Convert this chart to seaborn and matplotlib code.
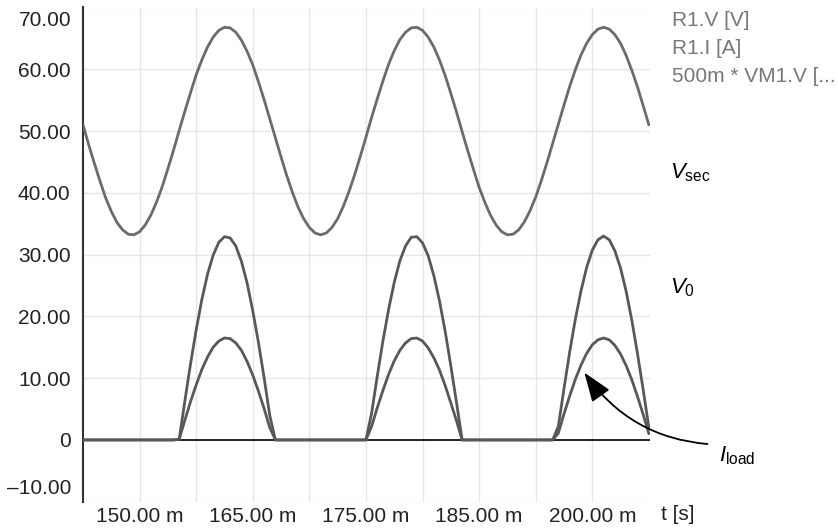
import matplotlib
matplotlib.use("Agg")
import matplotlib.pyplot as plt
import seaborn as sns
import pandas as pd

# ---- data ----
time_ms = [
    145.0, 145.5, 146.0, 146.5, 147.0, 147.5, 148.0, 148.5, 149.0, 149.5,
    150.0, 150.5, 151.0, 151.5, 152.0, 152.5, 153.0, 153.5, 154.0, 154.5,
    155.0, 155.5, 156.0, 156.5, 157.0, 157.5, 158.0, 158.5, 159.0, 159.5,
    160.0, 160.5, 161.0, 161.5, 162.0, 162.5, 163.0, 163.5, 164.0, 164.5,
    165.0, 165.5, 166.0, 166.5, 167.0, 167.5, 168.0, 168.5, 169.0, 169.5,
    170.0, 170.5, 171.0, 171.5, 172.0, 172.5, 173.0, 173.5, 174.0, 174.5,
    175.0, 175.5, 176.0, 176.5, 177.0, 177.5, 178.0, 178.5, 179.0, 179.5,
    180.0, 180.5, 181.0, 181.5, 182.0, 182.5, 183.0, 183.5, 184.0, 184.5,
    185.0, 185.5, 186.0, 186.5, 187.0, 187.5, 188.0, 188.5, 189.0, 189.5,
    190.0, 190.5, 191.0, 191.5, 192.0, 192.5, 193.0, 193.5, 194.0, 194.5,
    195.0,
]

v_sec = [
    51.0, 47.8, 44.8, 41.9, 39.2, 37.0, 35.2, 34.0, 33.3, 33.2,
    33.7, 34.8, 36.4, 38.5, 41.0, 43.9, 46.9, 50.1, 53.2, 56.2,
    59.1, 61.5, 63.6, 65.2, 66.3, 66.8, 66.7, 66.0, 64.7, 62.9,
    60.7, 58.0, 55.1, 52.0, 48.9, 45.8, 42.8, 40.1, 37.7, 35.8,
    34.4, 33.5, 33.2, 33.5, 34.4, 35.8, 37.8, 40.2, 42.9, 45.9,
    49.0, 52.2, 55.2, 58.1, 60.8, 63.0, 64.8, 66.0, 66.7, 66.8,
    66.3, 65.2, 63.6, 61.5, 59.0, 56.1, 53.1, 49.9, 46.8, 43.8,
    40.9, 38.5, 36.4, 34.8, 33.7, 33.2, 33.3, 34.0, 35.3, 37.1,
    39.3, 42.0, 44.9, 48.0, 51.1, 54.2, 57.2, 59.9, 62.3, 64.2,
    65.6, 66.5, 66.8, 66.5, 65.6, 64.2, 62.2, 59.8, 57.1, 54.1,
    51.0,
]

v_out = [
    0.0, 0.0, 0.0, 0.0, 0.0, 0.0, 0.0, 0.0, 0.0, 0.0,
    0.0, 0.0, 0.0, 0.0, 0.0, 0.0, 0.0, 0.1, 6.3, 12.3,
    17.8, 22.7, 26.8, 29.9, 32.0, 32.9, 32.7, 31.4, 28.9, 25.4,
    20.9, 15.8, 10.1, 4.0, 0.0, 0.0, 0.0, 0.0, 0.0, 0.0,
    0.0, 0.0, 0.0, 0.0, 0.0, 0.0, 0.0, 0.0, 0.0, 0.0,
    0.0, 4.3, 10.3, 16.0, 21.1, 25.5, 29.0, 31.4, 32.8, 32.9,
    31.9, 29.8, 26.6, 22.5, 17.6, 12.0, 6.1, 0.0, 0.0, 0.0,
    0.0, 0.0, 0.0, 0.0, 0.0, 0.0, 0.0, 0.0, 0.0, 0.0,
    0.0, 0.0, 0.0, 0.0, 2.2, 8.3, 14.2, 19.5, 24.1, 27.9,
    30.7, 32.4, 33.0, 32.4, 30.6, 27.8, 24.0, 19.3, 13.9, 8.1,
    2.0,
]

i_load = [
    0.0, 0.0, 0.0, 0.0, 0.0, 0.0, 0.0, 0.0, 0.0, 0.0,
    0.0, 0.0, 0.0, 0.0, 0.0, 0.0, 0.0, 0.1, 3.2, 6.2,
    8.9, 11.4, 13.4, 15.0, 16.0, 16.5, 16.4, 15.7, 14.5, 12.7,
    10.5, 7.9, 5.1, 2.0, 0.0, 0.0, 0.0, 0.0, 0.0, 0.0,
    0.0, 0.0, 0.0, 0.0, 0.0, 0.0, 0.0, 0.0, 0.0, 0.0,
    0.0, 2.2, 5.2, 8.0, 10.6, 12.8, 14.5, 15.7, 16.4, 16.5,
    16.0, 14.9, 13.3, 11.3, 8.8, 6.0, 3.1, 0.0, 0.0, 0.0,
    0.0, 0.0, 0.0, 0.0, 0.0, 0.0, 0.0, 0.0, 0.0, 0.0,
    0.0, 0.0, 0.0, 0.0, 1.1, 4.2, 7.1, 9.8, 12.1, 14.0,
    15.4, 16.2, 16.5, 16.2, 15.3, 13.9, 12.0, 9.7, 7.0, 4.1,
    1.0,
]

x_tick_pos = [150, 160, 170, 180, 190]
x_tick_labels = ["150.00 m", "165.00 m", "175.00 m", "185.00 m", "200.00 m"]
y_tick_pos = [-10, 0, 10, 20, 30, 40, 50, 60, 70]
y_tick_labels = ["\u201310.00", "0", "10.00", "20.00", "30.00", "40.00",
                 "50.00", "60.00", "70.00"]
legend_names = ["R1.V [V]", "R1.I [A]", "500m * VM1.V [..."]

# ---- style ----
sns.set_theme(style="white")
plt.rcParams["font.family"] = ["Liberation Sans", "DejaVu Sans"]
plt.rcParams["mathtext.fontset"] = "custom"
plt.rcParams["mathtext.rm"] = "Liberation Sans"
plt.rcParams["mathtext.it"] = "Liberation Sans:italic"

df = pd.DataFrame({"t": time_ms, "vsec": v_sec, "vo": v_out, "il": i_load})

fig = plt.figure(figsize=(8.38, 5.29), dpi=100)
ax = fig.add_axes([83 / 838, (529 - 501.7) / 529, (650 - 83) / 838, (501.7 - 7.5) / 529])

ax.axhline(0, color="black", lw=1.2, zorder=2)
sns.lineplot(data=df, x="t", y="vsec", ax=ax, color="#6b6b6b", lw=2.0,
             estimator=None, sort=False, zorder=3)
sns.lineplot(data=df, x="t", y="vo", ax=ax, color="#585858", lw=2.0,
             estimator=None, sort=False, zorder=3)
sns.lineplot(data=df, x="t", y="il", ax=ax, color="#585858", lw=2.0,
             estimator=None, sort=False, zorder=3)

ax.set_xlim(145, 195.1)
ax.set_ylim(-10, 70)
ax.set_xticks(x_tick_pos)
ax.set_xticklabels(x_tick_labels)
ax.set_xticks([155, 165, 175, 185], minor=True)
ax.set_yticks(y_tick_pos)
# end labels are nudged inside the axis range, drawn separately below
ax.set_yticklabels([""] + y_tick_labels[1:-1] + [""])
ax.tick_params(axis="both", which="both", length=0, labelsize=15, colors="#222222")
ax.tick_params(axis="y", pad=9)
ax.tick_params(axis="x", pad=4)
ax.grid(True, which="both", color="#e6e6e6", lw=1.0, zorder=0)
ax.set_axisbelow(True)
ax.set_xlabel("")
ax.set_ylabel("")
for s in ["top", "right", "bottom"]:
    ax.spines[s].set_visible(False)
ax.spines["left"].set_color("#333333")
ax.spines["left"].set_linewidth(1.5)

fig.text(71 / 838, 1 - 18 / 529, y_tick_labels[-1], fontsize=15, color="#222222",
         ha="right", va="center_baseline")
fig.text(71 / 838, 1 - 486 / 529, y_tick_labels[0], fontsize=15, color="#222222",
         ha="right", va="center_baseline")

# legend-like texts
for i, name in enumerate(legend_names):
    fig.text(672 / 838, 1 - (20 + 28 * i) / 529, name, fontsize=15,
             color="#777777", ha="left", va="center")

fig.text(678 / 838, 1 - 515 / 529, "t [s]", fontsize=15, color="#222222",
         ha="center", va="center")

# curve labels
fig.text(670 / 838, 1 - 173 / 529, r"$V_{\mathrm{sec}}$", fontsize=16,
         color="black", ha="left", va="center")
fig.text(670 / 838, 1 - 288 / 529, r"$V_{0}$", fontsize=16,
         color="black", ha="left", va="center")

ax.annotate(r"$I_{\mathrm{load}}$", xy=(189.3, 10.9), xytext=(201.2, -2.6),
            textcoords="data", fontsize=16, color="black", ha="left", va="center",
            annotation_clip=False,
            arrowprops=dict(arrowstyle="-|>,head_length=0.6,head_width=0.22",
                            connectionstyle="arc3,rad=-0.25", color="black",
                            lw=1.3, mutation_scale=30, shrinkA=6, shrinkB=0,
                            relpos=(0, 1)))

fig.savefig("out.png", dpi=100)
